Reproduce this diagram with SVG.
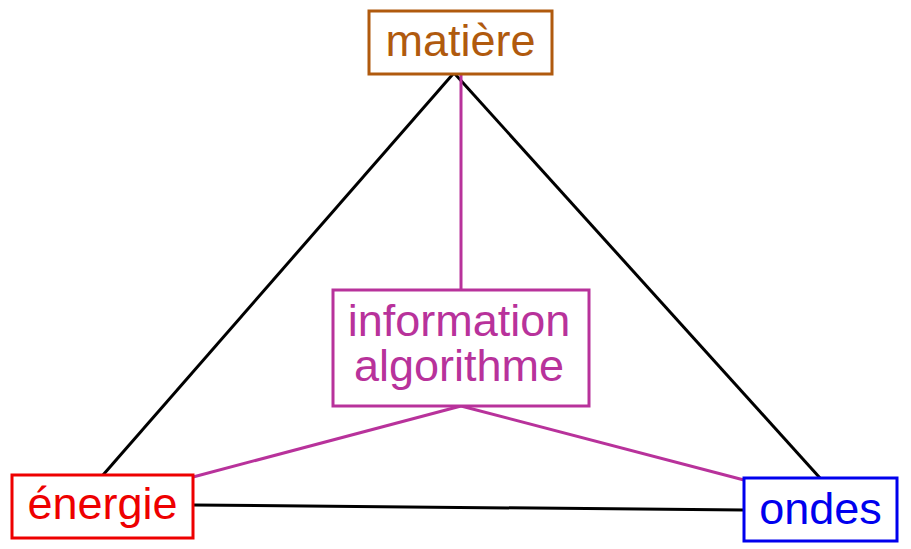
<svg xmlns="http://www.w3.org/2000/svg" width="911" height="549" viewBox="0 0 911 549">
<style>
text{font-family:"Liberation Sans",Arial,sans-serif;font-size:45px;text-anchor:middle}
rect{fill:#fff;stroke-width:3}
.k{stroke:#000;stroke-width:3;fill:none}
.p{stroke:#b8329b;stroke-width:3;fill:none}
</style>
<rect x="0" y="0" width="911" height="549" fill="#fff" stroke="none"/>
<g id="connectors">
<line class="k" x1="453" y1="74" x2="103" y2="475"/>
<line class="k" x1="455" y1="74" x2="820" y2="478"/>
<line class="k" x1="193" y1="505" x2="744" y2="510"/>
<line class="p" x1="461" y1="74" x2="461" y2="290"/>
<line class="p" x1="461" y1="406" x2="193" y2="477"/>
<line class="p" x1="461" y1="406" x2="744" y2="480"/>
</g>
<g id="matiere">
<rect x="369" y="11" width="183" height="63" stroke="#b05a0e"/>
<text x="460.5" y="56" fill="#b05a0e">matière</text>
</g>
<g id="information">
<rect x="333" y="290" width="256" height="116" stroke="#b8329b"/>
<text x="459" y="336" fill="#b8329b">information</text>
<text x="459" y="381" fill="#b8329b">algorithme</text>
</g>
<g id="energie">
<rect x="12" y="475" width="181" height="63" stroke="#ee0000"/>
<text x="102.5" y="519" fill="#ee0000">énergie</text>
</g>
<g id="ondes">
<rect x="744" y="478" width="153" height="63" stroke="#0000ee"/>
<text x="820.5" y="524" fill="#0000ee">ondes</text>
</g>
</svg>
